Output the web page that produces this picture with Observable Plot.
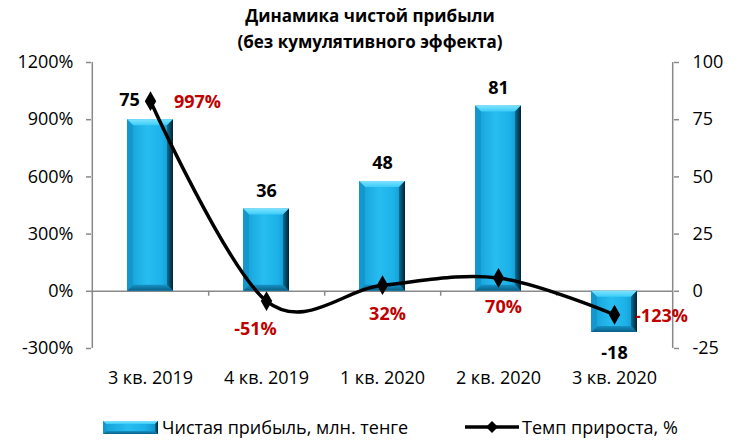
<!DOCTYPE html>
<html>
<head>
<meta charset="utf-8">
<script src="https://cdn.jsdelivr.net/npm/d3@7"></script>
<script src="https://cdn.jsdelivr.net/npm/@observablehq/plot@0.6"></script>
<style>
  body { margin: 0; background: #fff; }
  #wrap { position: relative; width: 740px; height: 443px; font-family: "Open Sans", sans-serif; overflow: hidden; }
  #title { position: absolute; top: 3px; left: 0; width: 740px; text-align: center; font-weight: bold; font-size: 17px; line-height: 26px; color: #000; }
  #chart { position: absolute; top: 0; left: 0; }
  .leg { position: absolute; top: 415px; font-size: 18px; color: #000; display: flex; align-items: center; white-space: nowrap; }
</style>
</head>
<body>
<div id="wrap">
  <div id="chart"></div>
  <div id="title">Динамика чистой прибыли<br>(без кумулятивного эффекта)</div>
  <div class="leg" id="leg1" style="left:103px"></div>
  <div class="leg" id="leg2" style="left:465px"></div>
</div>
<script>
// ---- data ----
const categories = ["3 кв. 2019", "4 кв. 2019", "1 кв. 2020", "2 кв. 2020", "3 кв. 2020"];
const profit = [75, 36, 48, 81, -18];            // Чистая прибыль, млн. тенге (right axis)
const growth = [997, -51, 32, 70, -123];         // Темп прироста, % (left axis)
const leftTicks = [-300, 0, 300, 600, 900, 1200];
const rightTicks = [-25, 0, 25, 50, 75, 100];
const seriesNames = ["Чистая прибыль, млн. тенге", "Темп прироста, %"];

const ratio = 1200 / 100; // left-axis units per right-axis unit

const profitData = categories.map((c, i) => ({cat: c, value: profit[i]}));
const growthData = categories.map((c, i) => ({cat: c, value: growth[i]}));

const W = 740, H = 443, mL = 91, mR = 67, mT = 62, mB = 95;
const step = (W - mL - mR) / categories.length;
const gray = "#898989";
const red = "#c00000";

const chart = Plot.plot({
  width: W, height: H,
  marginLeft: mL, marginRight: mR, marginTop: mT, marginBottom: mB,
  style: {fontFamily: "Open Sans", fontSize: "18px", color: "#000", background: "transparent", overflow: "visible"},
  x: {domain: categories, paddingInner: 0.6, paddingOuter: 0.3, label: null},
  y: {domain: [-300, 1200], label: null},
  marks: [
    // axes frame
    Plot.ruleX([categories[0]], {x: d => d, dx: -step / 2, y1: -300, y2: 1200, stroke: gray, strokeWidth: 1.5}),
    Plot.ruleX([categories[categories.length - 1]], {x: d => d, dx: step / 2, y1: -300, y2: 1200, stroke: gray, strokeWidth: 1.5}),
    Plot.ruleY([0], {stroke: gray, strokeWidth: 1.5}),
    Plot.ruleX(categories.slice(0, -1), {x: d => d, dx: step / 2, y1: 0, y2: -26, stroke: gray, strokeWidth: 1.5}),
    Plot.axisY(leftTicks, {anchor: "left", tickFormat: d => d + "%", tickSize: 5, tickPadding: 13, stroke: gray, strokeWidth: 1.5, fill: "#000", fontSize: 18, label: null}),
    Plot.axisY(leftTicks, {anchor: "right", tickFormat: (d, i) => String(rightTicks[i]), tickSize: 5, tickPadding: 14, stroke: gray, strokeWidth: 1.5, fill: "#000", fontSize: 18, label: null}),
    Plot.axisX({tickSize: 0, tickPadding: 23, fontSize: 18, fill: "#000", label: null}),
    // bars (right axis, scaled)
    Plot.barY(profitData, {x: "cat", y: d => d.value * ratio, fill: "#1cb0e8"}),
    // line (left axis)
    Plot.line(growthData, {x: "cat", y: "value", curve: "cardinal", tension: 0, stroke: "#000", strokeWidth: 3.5}),
    Plot.dot(growthData, {x: "cat", y: "value", symbol: "diamond", r: 6, fill: "#000", stroke: "none"}),
    // bar value labels
    Plot.text(profitData, {filter: d => d.cat === categories[0], x: "cat", y: d => d.value * ratio, text: d => String(d.value), dx: -21, dy: -19, fontWeight: "bold", fontSize: 18, fill: "#000"}),
    Plot.text(profitData, {filter: d => d.cat !== categories[0] && d.value >= 0, x: "cat", y: d => d.value * ratio, text: d => String(d.value), dy: -18, fontWeight: "bold", fontSize: 18, fill: "#000"}),
    Plot.text(profitData, {filter: d => d.value < 0, x: "cat", y: d => d.value * ratio, text: d => String(d.value), dy: 21, fontWeight: "bold", fontSize: 18, fill: "#000"}),
    // growth labels
    Plot.text(growthData, {filter: d => d.cat === categories[0] || d.cat === categories[4], x: "cat", y: "value", text: d => d.value + "%", dx: 47, dy: 1, fontWeight: "bold", fontSize: 18, fill: red}),
    Plot.text(growthData, {filter: d => d.cat === categories[1], x: "cat", y: "value", text: d => d.value + "%", dx: -11, dy: 28, fontWeight: "bold", fontSize: 18, fill: red}),
    Plot.text(growthData, {filter: d => d.cat === categories[2] || d.cat === categories[3], x: "cat", y: "value", text: d => d.value + "%", dx: 5, dy: 29, fontWeight: "bold", fontSize: 18, fill: red})
  ]
});
document.getElementById("chart").appendChild(chart);

// ---- bevel styling for bars ----
function ensureDefs(svg, suffix) {
  let defs = svg.select("defs");
  if (defs.empty()) defs = svg.insert("defs", ":first-child");
  const g1 = defs.append("linearGradient").attr("id", "faceGrad" + suffix).attr("x1", 0).attr("x2", 1).attr("y1", 0).attr("y2", 0);
  [[0, "#139fd6"], [0.45, "#28bdf0"], [0.75, "#1cb2e9"], [1, "#0f8fc4"]].forEach(([o, c]) => g1.append("stop").attr("offset", o).attr("stop-color", c));
  const g2 = defs.append("linearGradient").attr("id", "rightGrad" + suffix).attr("x1", 0).attr("x2", 1).attr("y1", 0).attr("y2", 0);
  [[0, "#0c6e98"], [1, "#04222f"]].forEach(([o, c]) => g2.append("stop").attr("offset", o).attr("stop-color", c));
  const g3 = defs.append("linearGradient").attr("id", "topGrad" + suffix).attr("x1", 0).attr("x2", 0).attr("y1", 0).attr("y2", 1);
  [[0, "#7fe3ff"], [1, "#3ccdf8"]].forEach(([o, c]) => g3.append("stop").attr("offset", o).attr("stop-color", c));
  const g4 = defs.append("linearGradient").attr("id", "botGrad" + suffix).attr("x1", 0).attr("x2", 0).attr("y1", 0).attr("y2", 1);
  [[0, "#1591c4"], [1, "#0a5f86"]].forEach(([o, c]) => g4.append("stop").attr("offset", o).attr("stop-color", c));
}
function bevel(g, x, y, w, h, b, s) {
  b = Math.min(b, h / 2.5, w / 4);
  const pts = a => a.map(p => p.join(",")).join(" ");
  g.append("rect").attr("x", x).attr("y", y).attr("width", w).attr("height", h).attr("fill", `url(#faceGrad${s})`);
  g.append("polygon").attr("points", pts([[x, y], [x + w, y], [x + w - b, y + b], [x + b, y + b]])).attr("fill", `url(#topGrad${s})`);
  g.append("polygon").attr("points", pts([[x, y + h], [x + w, y + h], [x + w - b, y + h - b], [x + b, y + h - b]])).attr("fill", `url(#botGrad${s})`);
  g.append("polygon").attr("points", pts([[x, y], [x + b, y + b], [x + b, y + h - b], [x, y + h]])).attr("fill", "#1497cc");
  g.append("polygon").attr("points", pts([[x + w, y], [x + w - b, y + b], [x + w - b, y + h - b], [x + w, y + h]])).attr("fill", `url(#rightGrad${s})`);
}
const svgNode = chart.tagName.toLowerCase() === "svg" ? chart : chart.querySelector("svg");
const svg = d3.select(svgNode);
ensureDefs(svg, "A");
svg.selectAll('g[aria-label="bar"] rect').each(function() {
  const r = d3.select(this);
  const x = +r.attr("x"), y = +r.attr("y"), w = +r.attr("width"), h = +r.attr("height");
  const g = d3.select(this.parentNode).append("g");
  bevel(g, x, y, w, h, 6, "A");
  r.attr("fill-opacity", 0);
});

// ---- legend ----
const leg1 = d3.select("#leg1");
const s1 = leg1.append("svg").attr("width", 55).attr("height", 13).style("margin-right", "4px");
ensureDefs(s1, "B");
bevel(s1.append("g"), 0, 0, 55, 13, 3, "B");
leg1.append("span").text(seriesNames[0]);

const leg2 = d3.select("#leg2");
const s2 = leg2.append("svg").attr("width", 54).attr("height", 14).style("margin-right", "3px");
s2.append("line").attr("x1", 0).attr("x2", 54).attr("y1", 7).attr("y2", 7).attr("stroke", "#000").attr("stroke-width", 3.5);
s2.append("path").attr("d", "M27,1 L33,7 L27,13 L21,7 Z").attr("fill", "#000");
leg2.append("span").text(seriesNames[1]);
</script>
</body>
</html>
